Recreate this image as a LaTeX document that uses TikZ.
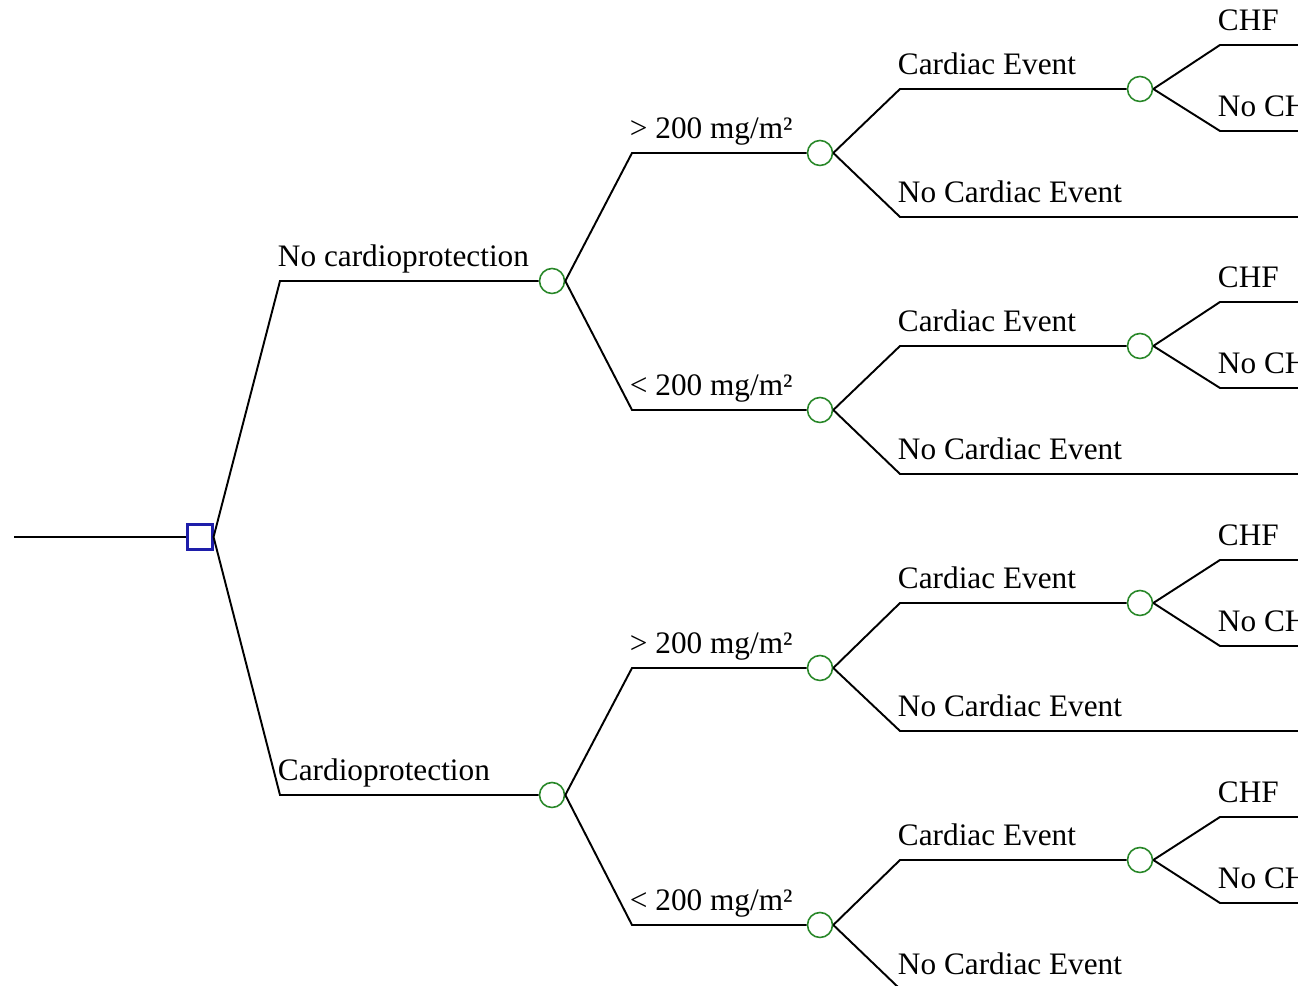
\documentclass[tikz,border=0pt]{standalone}
\usepackage{fontspec}
\setmainfont{Liberation Serif}
\usepackage{tikz}
\usetikzlibrary{positioning}
\definecolor{chancegreen}{RGB}{40,135,40}
\definecolor{decisionblue}{RGB}{30,30,170}

\begin{document}
\begin{tikzpicture}[x=0.02cm, y=0.02cm, line width=1.1pt]
    \tikzset{chance node/.style={circle,draw=chancegreen,line width=0.9pt,minimum size=0.5cm,inner sep=0pt}}
    \tikzset{decision node/.style={rectangle,draw=decisionblue,line width=1.2pt,minimum size=0.5cm,inner sep=0pt}}
    \tikzset{branch/.style={anchor=south west,inner sep=0pt,text depth=0pt,shift={(-3,14)},font=\fontsize{17.8}{20}\selectfont}}
    \useasboundingbox (0,0) rectangle (1298,986);
    \clip (0,0) rectangle (1298,986);

    % Nodes
    \coordinate (start) at (14,449);
    \node (choice) [decision node] at (200,449) {};

    \coordinate (kNoCP) at (280,705);
    \coordinate (kCP) at (280,191);
    \node (noCP) [chance node] at (552,705) {};
    \node (cp) [chance node] at (552,191) {};

    \coordinate (kNoHi) at (632,833);
    \coordinate (kNoLo) at (632,576);
    \coordinate (kCpHi) at (632,318);
    \coordinate (kCpLo) at (632,61);
    \node (noHi) [chance node] at (820,833) {};
    \node (noLo) [chance node] at (820,576) {};
    \node (cpHi) [chance node] at (820,318) {};
    \node (cpLo) [chance node] at (820,61) {};

    \coordinate (kNoHiEv) at (900,897);  \coordinate (kNoHiNone) at (900,769);
    \coordinate (kNoLoEv) at (900,640);  \coordinate (kNoLoNone) at (900,512);
    \coordinate (kCpHiEv) at (900,383);  \coordinate (kCpHiNone) at (900,255);
    \coordinate (kCpLoEv) at (900,126);  \coordinate (kCpLoNone) at (900,-3);
    \node (noHiEv) [chance node] at (1140,897) {};
    \node (noLoEv) [chance node] at (1140,640) {};
    \node (cpHiEv) [chance node] at (1140,383) {};
    \node (cpLoEv) [chance node] at (1140,126) {};
    \coordinate (eNoHiNone) at (1310,769);
    \coordinate (eNoLoNone) at (1310,512);
    \coordinate (eCpHiNone) at (1310,255);
    \coordinate (eCpLoNone) at (1310,-3);

    \coordinate (kNoHiChf) at (1220,941);  \coordinate (kNoHiNoChf) at (1220,855);
    \coordinate (kNoLoChf) at (1220,684);  \coordinate (kNoLoNoChf) at (1220,598);
    \coordinate (kCpHiChf) at (1220,426);  \coordinate (kCpHiNoChf) at (1220,340);
    \coordinate (kCpLoChf) at (1220,169);  \coordinate (kCpLoNoChf) at (1220,83);
    \coordinate (eNoHiChf) at (1310,941);  \coordinate (eNoHiNoChf) at (1310,855);
    \coordinate (eNoLoChf) at (1310,684);  \coordinate (eNoLoNoChf) at (1310,598);
    \coordinate (eCpHiChf) at (1310,426);  \coordinate (eCpHiNoChf) at (1310,340);
    \coordinate (eCpLoChf) at (1310,169);  \coordinate (eCpLoNoChf) at (1310,83);

    % Labels
    \node [branch] at (kNoCP) {No cardioprotection};
    \node [branch] at (kCP) {Cardioprotection};
    \node [branch] at (kNoHi) {> 200 mg/m²};
    \node [branch] at (kNoLo) {< 200 mg/m²};
    \node [branch] at (kCpHi) {> 200 mg/m²};
    \node [branch] at (kCpLo) {< 200 mg/m²};
    \node [branch] at (kNoHiEv) {Cardiac Event};
    \node [branch] at (kNoHiNone) {No Cardiac Event};
    \node [branch] at (kNoLoEv) {Cardiac Event};
    \node [branch] at (kNoLoNone) {No Cardiac Event};
    \node [branch] at (kCpHiEv) {Cardiac Event};
    \node [branch] at (kCpHiNone) {No Cardiac Event};
    \node [branch] at (kCpLoEv) {Cardiac Event};
    \node [branch] at (kCpLoNone) {No Cardiac Event};
    \node [branch] at (kNoHiChf) {CHF};
    \node [branch] at (kNoHiNoChf) {No CHF};
    \node [branch] at (kNoLoChf) {CHF};
    \node [branch] at (kNoLoNoChf) {No CHF};
    \node [branch] at (kCpHiChf) {CHF};
    \node [branch] at (kCpHiNoChf) {No CHF};
    \node [branch] at (kCpLoChf) {CHF};
    \node [branch] at (kCpLoNoChf) {No CHF};

    % Branches
    \draw (start) -- (choice);
    \draw (choice.east) -- (kNoCP) -- (noCP);
    \draw (choice.east) -- (kCP) -- (cp);

    \draw (noCP.east) -- (kNoHi) -- (noHi);
    \draw (noCP.east) -- (kNoLo) -- (noLo);
    \draw (cp.east) -- (kCpHi) -- (cpHi);
    \draw (cp.east) -- (kCpLo) -- (cpLo);

    \draw (noHi.east) -- (kNoHiEv) -- (noHiEv);
    \draw (noHi.east) -- (kNoHiNone) -- (eNoHiNone);
    \draw (noLo.east) -- (kNoLoEv) -- (noLoEv);
    \draw (noLo.east) -- (kNoLoNone) -- (eNoLoNone);
    \draw (cpHi.east) -- (kCpHiEv) -- (cpHiEv);
    \draw (cpHi.east) -- (kCpHiNone) -- (eCpHiNone);
    \draw (cpLo.east) -- (kCpLoEv) -- (cpLoEv);
    \draw (cpLo.east) -- (kCpLoNone) -- (eCpLoNone);

    \draw (noHiEv.east) -- (kNoHiChf) -- (eNoHiChf);
    \draw (noHiEv.east) -- (kNoHiNoChf) -- (eNoHiNoChf);
    \draw (noLoEv.east) -- (kNoLoChf) -- (eNoLoChf);
    \draw (noLoEv.east) -- (kNoLoNoChf) -- (eNoLoNoChf);
    \draw (cpHiEv.east) -- (kCpHiChf) -- (eCpHiChf);
    \draw (cpHiEv.east) -- (kCpHiNoChf) -- (eCpHiNoChf);
    \draw (cpLoEv.east) -- (kCpLoChf) -- (eCpLoChf);
    \draw (cpLoEv.east) -- (kCpLoNoChf) -- (eCpLoNoChf);
\end{tikzpicture}
\end{document}
